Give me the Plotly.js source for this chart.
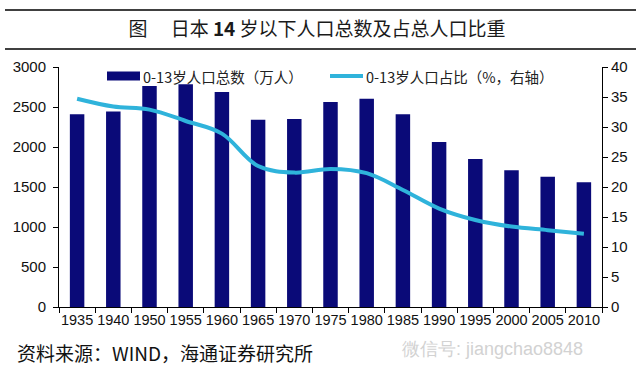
<!DOCTYPE html>
<html>
<head>
<meta charset="utf-8">
<script src="https://cdn.plot.ly/plotly-3.0.1.min.js"></script>
<style>
html,body{margin:0;padding:0;background:#fff;}
#chart{width:641px;height:369px;}
</style>
</head>
<body>
<div id="chart"></div>
<script>
const years = ["1935","1940","1950","1955","1960","1965","1970","1975","1980","1985","1990","1995","2000","2005","2010"];
const population = [2410, 2445, 2762, 2783, 2687, 2341, 2350, 2562, 2604, 2408, 2062, 1850, 1708, 1629, 1558];
const share = [34.7, 33.4, 32.9, 31.0, 28.9, 23.5, 22.4, 23.0, 22.3, 19.5, 16.4, 14.5, 13.4, 12.8, 12.2];
const barName = "0-13岁人口总数（万人）";
const lineName = "0-13岁人口占比（%，右轴）";

const barColor = "#0a0a78";
const lineColor = "#2fb3db";
const cjk = "'Noto Sans CJK SC', sans-serif";
const latin = "Arial, 'Liberation Sans', sans-serif";

const traces = [
  {type:"bar", x:years, y:population, name:barName, marker:{color:barColor}, yaxis:"y", showlegend:false},
  {type:"scatter", mode:"lines", x:years, y:share, name:lineName, yaxis:"y2",
   line:{color:lineColor, width:4, shape:"spline", smoothing:1}, showlegend:false}
];

const L = 59, R = 602, T = 67, B = 307;
const W = R - L, H = B - T;
const px = x => (x - L) / W;
const py = y => (B - y) / H;

const layout = {
  width:641, height:369,
  margin:{l:L, r:641-R, t:T, b:369-B, pad:0},
  paper_bgcolor:"#fff", plot_bgcolor:"#fff",
  bargap:0.6,
  title:{text:"图　 日本 <b>14</b> 岁以下人口总数及占总人口比重", x:317/641, xref:"container", xanchor:"center",
         y:1-29/369, yref:"container", yanchor:"middle",
         font:{family:cjk, size:19, color:"#1a1a1a"}},
  xaxis:{type:"category", tickson:"boundaries", ticks:"outside", ticklen:5, tickcolor:"#000",
         showline:true, linecolor:"#000", linewidth:1, showgrid:false, zeroline:false,
         tickfont:{family:latin, size:14.5, color:"#111"}, tickangle:0},
  yaxis:{range:[0,3000], dtick:500, tick0:0, ticks:"outside", ticklen:5, tickcolor:"#000",
         showline:true, linecolor:"#000", linewidth:1, showgrid:false, zeroline:false,
         tickfont:{family:latin, size:15, color:"#111"}, ticklabelstandoff:4},
  yaxis2:{range:[0,40], dtick:5, tick0:0, overlaying:"y", side:"right", ticks:"outside", ticklen:5, tickcolor:"#000",
          showline:true, linecolor:"#000", linewidth:1, showgrid:false, zeroline:false,
          tickfont:{family:latin, size:15, color:"#111"}},
  shapes:[
    {type:"line", xref:"paper", yref:"paper", x0:px(5), x1:px(636), y0:py(10), y1:py(10), line:{color:"#000", width:1.5}},
    {type:"line", xref:"paper", yref:"paper", x0:px(5), x1:px(636), y0:py(49), y1:py(49), line:{color:"#000", width:1.5}},
    {type:"rect", xref:"paper", yref:"paper", x0:px(107), x1:px(140), y0:py(80.5), y1:py(71.5), fillcolor:barColor, line:{width:0}},
    {type:"line", xref:"paper", yref:"paper", x0:px(330), x1:px(363), y0:py(76), y1:py(76), line:{color:lineColor, width:4}}
  ],
  annotations:[
    {text:barName, xref:"paper", yref:"paper", x:px(141), y:py(76), xanchor:"left", yanchor:"middle", showarrow:false,
     font:{family:cjk, size:14.5, color:"#222"}},
    {text:lineName, xref:"paper", yref:"paper", x:px(364), y:py(76), xanchor:"left", yanchor:"middle", showarrow:false,
     font:{family:cjk, size:14.5, color:"#222"}},
    {text:"资料来源：WIND，海通证券研究所", xref:"paper", yref:"paper", x:px(15), y:py(352), xanchor:"left", yanchor:"middle", showarrow:false,
     font:{family:cjk, size:19, color:"#111"}},
    {text:"微信号: jiangchao8848", xref:"paper", yref:"paper", x:px(400), y:py(349), xanchor:"left", yanchor:"middle", showarrow:false,
     font:{family:latin, size:18, color:"#d2d2d2"}}
  ]
};

Plotly.newPlot("chart", traces, layout, {displayModeBar:false, staticPlot:true});
</script>
</body>
</html>
